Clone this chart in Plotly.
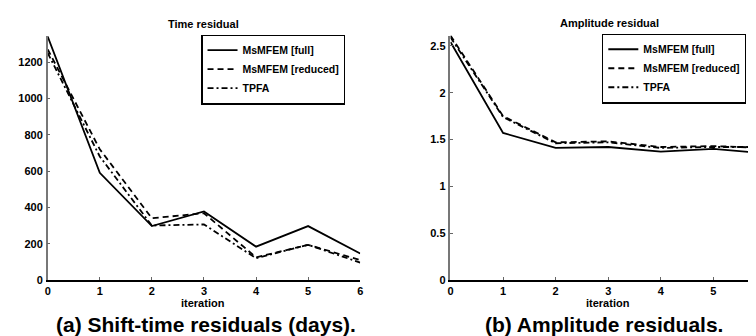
import plotly.graph_objects as go

iterations = [0, 1, 2, 3, 4, 5, 6]

time_full = [1340, 590, 297, 378, 184, 297, 146]
time_reduced = [1270, 720, 340, 368, 125, 194, 110]
time_tpfa = [1250, 680, 300, 306, 120, 194, 96]

amp_full = [2.54, 1.57, 1.41, 1.42, 1.37, 1.40, 1.35]
amp_reduced = [2.61, 1.75, 1.47, 1.48, 1.42, 1.43, 1.41]
amp_tpfa = [2.59, 1.74, 1.46, 1.47, 1.41, 1.42, 1.42]

series_names = ["MsMFEM [full]", "MsMFEM [reduced]", "TPFA"]
dashes = ["solid", "6px,4px", "6px,3px,2px,3px"]

left_ticks = [0, 200, 400, 600, 800, 1000, 1200]
right_ticks = [0, 0.5, 1, 1.5, 2, 2.5]
right_tick_text = ["0", "0.5", "1", "1.5", "2", "2.5"]
x_ticks = [0, 1, 2, 3, 4, 5, 6]

W, H = 756, 336
FONT = "Liberation Sans, Arial, sans-serif"

fig = go.Figure()

for name, ys, d in zip(series_names, [time_full, time_reduced, time_tpfa], dashes):
    fig.add_trace(go.Scatter(x=iterations, y=ys, mode="lines", name=name,
                             line=dict(color="black", width=1.8, dash=d),
                             xaxis="x", yaxis="y", legend="legend"))
for name, ys, d in zip(series_names, [amp_full, amp_reduced, amp_tpfa], dashes):
    fig.add_trace(go.Scatter(x=iterations, y=ys, mode="lines", name=name,
                             line=dict(color="black", width=1.8, dash=d),
                             xaxis="x2", yaxis="y2", legend="legend2"))

y_dom = [1 - 277 / H, 1 - 28 / H]
tickfont = dict(family=FONT, size=11, color="black", weight="bold")

common_x = dict(showline=True, linecolor="black", linewidth=1.5, ticks="inside",
                ticklen=3, tickcolor="#666", showgrid=False, zeroline=False,
                tickfont=tickfont, tickvals=x_ticks, fixedrange=True)
common_y = dict(showline=True, linecolor="#777", linewidth=1.5, ticks="inside",
                ticklen=3, tickcolor="#666", showgrid=False, zeroline=False,
                tickfont=tickfont, fixedrange=True, ticklabelstandoff=1)

legend_common = dict(font=dict(family=FONT, size=10.5, color="black", weight="bold"),
                     bordercolor="black", borderwidth=1.2, bgcolor="white",
                     yanchor="top", xanchor="right", itemwidth=30,
                     tracegroupgap=0)

fig.update_layout(
    width=W, height=H,
    margin=dict(l=0, r=0, t=0, b=0),
    paper_bgcolor="white", plot_bgcolor="white",
    showlegend=True,
    xaxis=dict(domain=[37 / W, 352 / W], range=[0, 6], anchor="y", **common_x),
    yaxis=dict(domain=y_dom, range=[0, 1346], anchor="x", tickvals=left_ticks, **common_y),
    xaxis2=dict(domain=[443 / W, 1.0], range=[0, (W - 443) / 53.0], anchor="y2", **common_x),
    yaxis2=dict(domain=y_dom, range=[0, 2.61], anchor="x2", tickvals=right_ticks,
                ticktext=right_tick_text, **common_y),
    legend=dict(x=337 / W, y=1 - 27 / H, **legend_common),
    legend2=dict(x=741 / W, y=1 - 26 / H, **legend_common),
)

def ann(text, x, y, size, weight="bold"):
    fig.add_annotation(text=text, x=x / W, y=1 - y / H, xref="paper", yref="paper",
                       showarrow=False, xanchor="center", yanchor="middle",
                       font=dict(family=FONT, size=size, color="black", weight=weight))

ann("Time residual", 194, 16, 11)
ann("Amplitude residual", 603, 15, 11)
ann("iteration", 194, 300, 11)
ann("iteration", 602, 300, 11)
ann("(a) Shift-time residuals (days).", 197, 322, 21)
ann("(b) Amplitude residuals.", 598, 322, 21)

fig.write_html("out.html")
